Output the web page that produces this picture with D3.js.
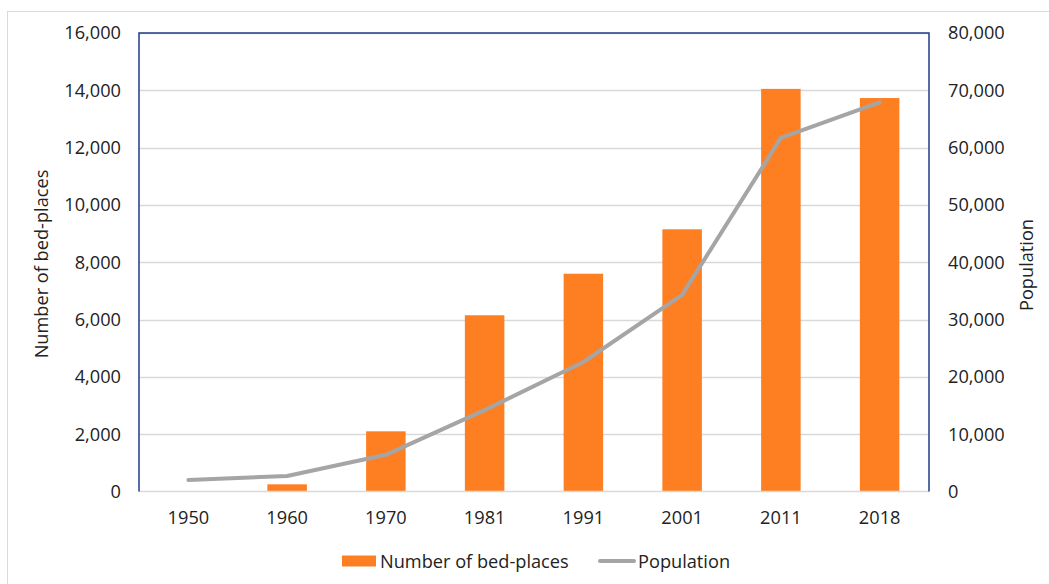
<!DOCTYPE html>
<html><head><meta charset="utf-8">
<script src="https://cdn.jsdelivr.net/npm/d3@7"></script>
<style>body{margin:0;background:#fff;} text{font-family:"Open Sans",sans-serif;fill:#222;}</style>
</head><body>
<svg id="c" width="1049" height="584"></svg>
<script>
const categories = ["1950","1960","1970","1981","1991","2001","2011","2018"];
const bedPlaces = [0, 250, 2100, 6150, 7600, 9150, 14050, 13730];
const population = [2000, 2700, 6400, 14200, 22600, 34300, 61700, 67900];
const leftTicks = [0,2000,4000,6000,8000,10000,12000,14000,16000];
const rightTicks = [0,10000,20000,30000,40000,50000,60000,70000,80000];

const svg = d3.select("#c");
const m = {l:139, r:929, t:33, b:491.5};
const fmt = d3.format(",");
const FS = 18.2;

// outer frame (only left & top visible)
svg.append("rect").attr("x",7.5).attr("y",11.5).attr("width",1100).attr("height",700)
  .attr("fill","none").attr("stroke","#d9d9d9").attr("stroke-width",1);

const x = d3.scaleBand().domain(categories).range([m.l, m.r]).paddingInner(0.6).paddingOuter(0.3);
const xc = d => x(d) + x.bandwidth()/2;
const yL = d3.scaleLinear().domain([0,16000]).range([m.b, m.t]);
const yR = d3.scaleLinear().domain([0,80000]).range([m.b, m.t]);

// gridlines
svg.append("g").selectAll("line").data(leftTicks.filter(d=>d>0)).join("line")
  .attr("x1",m.l).attr("x2",m.r).attr("y1",d=>Math.round(yL(d))+0.5).attr("y2",d=>Math.round(yL(d))+0.5)
  .attr("stroke","#d9d9d9").attr("stroke-width",1.3);

// bars
svg.append("g").selectAll("rect").data(categories).join("rect")
  .attr("x",d=>x(d)).attr("width",x.bandwidth())
  .attr("y",(d,i)=>yL(bedPlaces[i])).attr("height",(d,i)=>m.b-yL(bedPlaces[i]))
  .attr("fill","#fe7f22");

// bottom axis line
svg.append("line").attr("x1",m.l).attr("x2",m.r).attr("y1",m.b).attr("y2",m.b)
  .attr("stroke","#d9d9d9").attr("stroke-width",1.5);

// line
svg.append("path").datum(population)
  .attr("d", d3.line().x((d,i)=>xc(categories[i])).y(d=>yR(d)))
  .attr("fill","none").attr("stroke","#a5a5a5").attr("stroke-width",4).attr("stroke-linecap","round").attr("stroke-linejoin","round");

// frame: left, top, right dark blue
svg.append("path").attr("d",`M${m.l},${m.b}V${m.t}H${m.r}V${m.b}`)
  .attr("fill","none").attr("stroke","#1f3c88").attr("stroke-width",1.5);

// axes labels
const gl = svg.append("g").attr("transform",`translate(${m.l},0)`)
  .call(d3.axisLeft(yL).tickValues(leftTicks).tickFormat(fmt).tickSize(0).tickPadding(18));
const gr = svg.append("g").attr("transform",`translate(${m.r},0)`)
  .call(d3.axisRight(yR).tickValues(rightTicks).tickFormat(fmt).tickSize(0).tickPadding(19));
const gx = svg.append("g").attr("transform",`translate(0,${m.b})`)
  .call(d3.axisBottom(x).tickSize(0).tickPadding(20));
[gl,gr,gx].forEach(g=>{g.select(".domain").remove(); g.selectAll("text").attr("font-family","Open Sans").attr("font-size",FS).attr("fill","#222");});

// axis titles
svg.append("text").attr("transform","translate(48,264) rotate(-90)").attr("text-anchor","middle")
  .attr("font-size",FS).text("Number of bed-places");
svg.append("text").attr("transform","translate(1033,265) rotate(-90)").attr("text-anchor","middle")
  .attr("font-size",FS).text("Population");

// legend
const lg = svg.append("g");
lg.append("rect").attr("x",342).attr("y",555.5).attr("width",34).attr("height",11).attr("fill","#fe7f22");
lg.append("text").attr("x",380).attr("y",567.5).attr("font-size",FS).text("Number of bed-places");
lg.append("line").attr("x1",600).attr("x2",634).attr("y1",561).attr("y2",561).attr("stroke","#a5a5a5").attr("stroke-width",4).attr("stroke-linecap","round");
lg.append("text").attr("x",638).attr("y",567.5).attr("font-size",FS).text("Population");
</script>
</body></html>
